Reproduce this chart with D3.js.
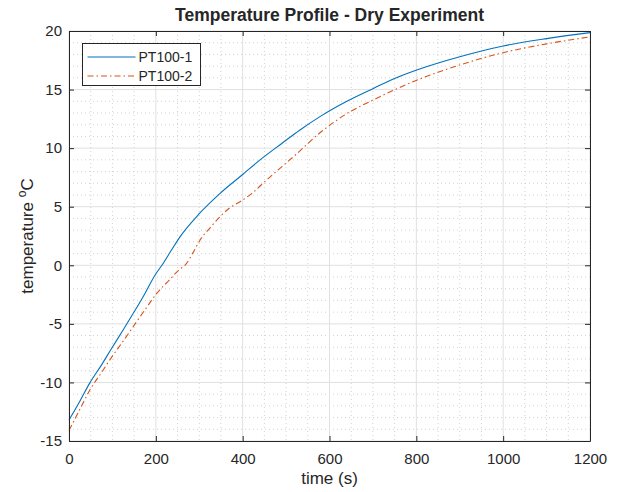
<!DOCTYPE html>
<html>
<head>
<meta charset="utf-8">
<script src="https://cdn.jsdelivr.net/npm/d3@7"></script>
<style>
  body { margin: 0; background: #fff; }
  svg text { font-family: "Liberation Sans", Arial, sans-serif; fill: #262626; }
</style>
</head>
<body>
<svg id="chart" width="620" height="492"></svg>
<script>
// data (time in s, temperature in degC)
let t_pt1 = [0, 25, 47, 75, 98, 125, 148, 175, 198, 214, 236, 256, 300, 348, 400, 440, 490, 532, 578, 640, 701, 750, 801, 900, 1000, 1100, 1200];
let v_pt1 = [-13.2, -11.6, -10.1, -8.5, -7.1, -5.5, -4.1, -2.4, -0.85, 0, 1.3, 2.45, 4.4, 6.14, 7.75, 9.0, 10.4, 11.55, 12.69, 14.0, 15.1, 15.95, 16.67, 17.8, 18.72, 19.35, 19.86];

let t_pt2 = [0, 25, 48, 75, 94, 130, 156, 175, 202, 230, 256, 267, 286, 302, 325, 348, 370, 394, 420, 455, 517, 586, 647, 700, 801, 900, 1000, 1100, 1200];
let v_pt2 = [-14.1, -12.3, -10.65, -9.15, -8.08, -6.2, -4.8, -3.8, -2.4, -1.3, -0.3, 0.0, 1.1, 2.16, 3.2, 4.15, 4.9, 5.43, 6.1, 7.28, 9.27, 11.55, 13.1, 14.1, 15.8, 17.1, 18.15, 18.9, 19.5];

let series_names = ["PT100-1", "PT100-2"];
let series_colors = ["#0072BD", "#D95319"];

let x_ticks = [0, 200, 400, 600, 800, 1000, 1200];
let y_ticks = [-15, -10, -5, 0, 5, 10, 15, 20];

/*** layout ***/
let svg = d3.select("#chart");
let margin = {top: 31, right: 30, bottom: 51, left: 69},
    width = 620 - margin.left - margin.right,
    height = 492 - margin.top - margin.bottom;

let x = d3.scaleLinear().domain([0, 1200]).range([margin.left, margin.left + width]);
let y = d3.scaleLinear().domain([-15, 20]).range([margin.top + height, margin.top]);

let g = svg.append("g");

// minor grid (dotted)
let x_minor = d3.range(0, 1201, 50).filter((d) => d % 200 != 0);
let y_minor = d3.range(-15, 21, 1).filter((d) => d % 5 != 0);

g.selectAll("line.xminor").data(x_minor).enter()
    .append("line")
    .attr("x1", (d) => x(d)).attr("x2", (d) => x(d))
    .attr("y1", margin.top).attr("y2", margin.top + height)
    .attr("stroke", "#d2d2d2").attr("stroke-dasharray", "1,3");

g.selectAll("line.yminor").data(y_minor).enter()
    .append("line")
    .attr("x1", margin.left).attr("x2", margin.left + width)
    .attr("y1", (d) => y(d)).attr("y2", (d) => y(d))
    .attr("stroke", "#d2d2d2").attr("stroke-dasharray", "1,3");

// major grid
g.selectAll("line.xmajor").data(x_ticks).enter()
    .append("line")
    .attr("x1", (d) => x(d)).attr("x2", (d) => x(d))
    .attr("y1", margin.top).attr("y2", margin.top + height)
    .attr("stroke", "#e0e0e0");

g.selectAll("line.ymajor").data(y_ticks).enter()
    .append("line")
    .attr("x1", margin.left).attr("x2", margin.left + width)
    .attr("y1", (d) => y(d)).attr("y2", (d) => y(d))
    .attr("stroke", "#e0e0e0");

// lines
let line = d3.line()
    .x((d) => x(d[0]))
    .y((d) => y(d[1]))
    .curve(d3.curveMonotoneX);

let pt1 = t_pt1.map((t, i) => [t, v_pt1[i]]);
let pt2 = t_pt2.map((t, i) => [t, v_pt2[i]]);

g.append("path").datum(pt1)
    .attr("d", line).attr("fill", "none")
    .attr("stroke", series_colors[0]).attr("stroke-width", 1.1);

g.append("path").datum(pt2)
    .attr("d", line).attr("fill", "none")
    .attr("stroke", series_colors[1]).attr("stroke-width", 1.1)
    .attr("stroke-dasharray", "6,3,1.5,3");

// axes (ticks inside, box on)
let tick_len = 5;
let axis_col = "#262626";
let fmt = (d) => String(d);

let xb = d3.axisBottom(x).tickValues(x_ticks).tickSizeInner(-tick_len).tickSizeOuter(0).tickPadding(12).tickFormat(fmt);
let xt = d3.axisTop(x).tickValues(x_ticks).tickSizeInner(-tick_len).tickSizeOuter(0).tickFormat("");
let yl = d3.axisLeft(y).tickValues(y_ticks).tickSizeInner(-tick_len).tickSizeOuter(0).tickPadding(7).tickFormat(fmt);
let yr = d3.axisRight(y).tickValues(y_ticks).tickSizeInner(-tick_len).tickSizeOuter(0).tickFormat("");

function style_axis(sel) {
    sel.select(".domain").attr("stroke", axis_col);
    sel.selectAll(".tick line").attr("stroke", axis_col);
    sel.selectAll(".tick text")
        .attr("fill", axis_col)
        .style("font-size", "15px")
        .style("font-family", "'Liberation Sans', Arial, sans-serif");
}

svg.append("g").attr("transform", "translate(0," + (margin.top + height) + ")").call(xb).call(style_axis);
svg.append("g").attr("transform", "translate(0," + margin.top + ")").call(xt).call(style_axis);
svg.append("g").attr("transform", "translate(" + margin.left + ",0)").call(yl).call(style_axis);
svg.append("g").attr("transform", "translate(" + (margin.left + width) + ",0)").call(yr).call(style_axis);

// title and labels
svg.append("text")
    .attr("x", margin.left + width / 2).attr("y", 21)
    .attr("text-anchor", "middle")
    .style("font-size", "17.5px").style("font-weight", "bold")
    .attr("fill", "#000")
    .text("Temperature Profile - Dry Experiment");

svg.append("text")
    .attr("x", margin.left + width / 2).attr("y", 484)
    .attr("text-anchor", "middle")
    .style("font-size", "17px")
    .text("time (s)");

let ylab = svg.append("text")
    .attr("transform", "translate(33," + (margin.top + height / 2) + ") rotate(-90)")
    .attr("text-anchor", "middle")
    .style("font-size", "17px");
ylab.append("tspan").text("temperature ");
ylab.append("tspan").attr("dy", -7).style("font-size", "12px").text("o");
ylab.append("tspan").attr("dy", 7).text("C");

// legend
let leg = svg.append("g").attr("transform", "translate(82.5,43.5)");
leg.append("rect")
    .attr("width", 118).attr("height", 42)
    .attr("fill", "#fff").attr("stroke", axis_col);

leg.selectAll("line.leg").data(series_names).enter()
    .append("line")
    .attr("x1", 5).attr("x2", 53)
    .attr("y1", (d, i) => 13.5 + i * 19).attr("y2", (d, i) => 13.5 + i * 19)
    .attr("stroke", (d, i) => series_colors[i])
    .attr("stroke-width", 1.1)
    .attr("stroke-dasharray", (d, i) => i == 1 ? "6,3,1.5,3" : null);

leg.selectAll("text.leg").data(series_names).enter()
    .append("text")
    .attr("x", 56).attr("y", (d, i) => 13.5 + i * 19)
    .attr("dy", "0.35em")
    .style("font-size", "14px")
    .attr("fill", "#000")
    .text((d) => d);
</script>
</body>
</html>
